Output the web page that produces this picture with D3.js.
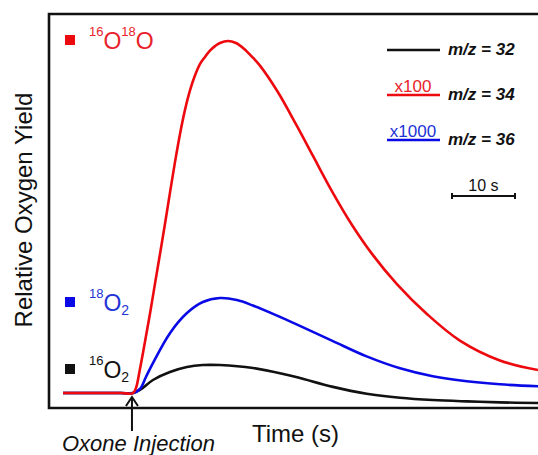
<!DOCTYPE html>
<html>

<head>
    <title>Relative Oxygen Yield</title>
    <script src="https://d3js.org/d3.v7.min.js"></script>
    <style>
        body { margin: 0; background: white; }
        svg text { font-family: "Liberation Sans", Arial, sans-serif; }
    </style>
</head>

<body>
    <div id="chart"></div>
    <script>
        // DATA (time in s relative to oxone injection, yield in arbitrary units)

        var timeBlack = [-11.1, -2, 0, 1.11, 3.17, 5.87, 8.57, 11.1, 13.8, 19.05, 24.4, 26.5, 31.75, 37.1, 42.4, 47.6, 53.0, 58.25, 64.3]
        var yieldBlack = [3.8, 3.8, 3.8, 4.57, 7.11, 9.14, 10.4, 10.9, 10.9, 10.15, 8.43, 7.61, 5.36, 3.63, 2.61, 2.03, 1.68, 1.42, 1.27]

        var timeRed = [-11.1, -2, 0, 0.48, 1.11, 1.90, 2.70, 3.49, 4.29, 5.08, 5.87, 6.67, 7.46, 8.25, 9.05, 9.84, 10.63, 11.43, 12.22, 13.02, 13.81, 15.08, 16.35, 17.62, 19.05, 20.16, 23.0, 26.0, 28.6, 31.6, 34.8, 38.1, 41.9, 46.7, 51.9, 58.25, 64.3]
        var yieldRed = [3.8, 3.8, 3.8, 5.08, 9.9, 16.75, 23.9, 31.5, 39.1, 46.7, 54.6, 62.4, 69.5, 75.6, 80.6, 84.4, 87.3, 89.1, 90.7, 91.85, 92.65, 93.15, 92.65, 91.2, 88.9, 86.9, 80.2, 71.65, 63.9, 55.0, 46.4, 38.8, 31.45, 23.8, 17.1, 12.06, 9.64]

        var timeBlue = [-11.1, -2, 0, 1.11, 2.06, 3.17, 5.87, 8.57, 11.1, 13.8, 16.5, 19.05, 24.4, 26.5, 31.75, 37.1, 42.4, 47.6, 53.0, 58.25, 64.3]
        var yieldBlue = [3.8, 3.8, 3.8, 4.82, 7.87, 11.4, 19.0, 24.1, 26.9, 27.9, 27.4, 26.0, 22.36, 20.84, 16.98, 13.1, 10.08, 8.07, 6.78, 6.01, 5.53]

        var legendLabels = ['m/z = 32', 'm/z = 34', 'm/z = 36']
        var legendFactors = ['', 'x100', 'x1000']
        var seriesColors = ['#111111', '#ec0a0f', '#0a0ae6']
        var textColors = ['#111111', '#e8232b', '#2233d6']

        // GENERAL SETUP

        var width = 538
        var height = 455
        var margin = { left: 49, right: 0, top: 14, bottom: 47 }

        var svg = d3.select('#chart').append('svg')
            .attr('width', width)
            .attr('height', height)

        var x = d3.scaleLinear()
            .domain([-13.33, 64.3])
            .range([margin.left, width])
        var y = d3.scaleLinear()
            .domain([0, 100])
            .range([height - margin.bottom, margin.top])

        svg.append('clipPath').attr('id', 'plotClip')
            .append('rect')
            .attr('x', margin.left).attr('y', margin.top)
            .attr('width', width - margin.left).attr('height', height - margin.bottom - margin.top)

        // CURVES

        var line = d3.line()
            .x(function (d) { return x(d[0]) })
            .y(function (d) { return y(d[1]) })
            .curve(d3.curveCatmullRom.alpha(0.5))

        var series = [
            d3.zip(timeBlack, yieldBlack),
            d3.zip(timeRed, yieldRed),
            d3.zip(timeBlue, yieldBlue)
        ]
        // draw black first, then blue, red on top
        var order = [0, 2, 1]
        order.forEach(function (i) {
            svg.append('path')
                .attr('d', line(series[i]))
                .attr('fill', 'none')
                .attr('stroke', seriesColors[i])
                .attr('stroke-width', 2.6)
                .attr('stroke-linejoin', 'round')
                .attr('clip-path', 'url(#plotClip)')
        })

        // FRAME

        svg.append('path')
            .attr('d', 'M' + width + ',' + y(100) + 'H' + x(-13.33) + 'V' + y(0) + 'H' + width)
            .attr('fill', 'none')
            .attr('stroke', '#111')
            .attr('stroke-width', 2.6)

        // AXIS TITLES

        svg.append('text')
            .attr('transform', 'translate(32,' + 210 + ') rotate(-90)')
            .attr('text-anchor', 'middle')
            .style('font-size', '24px')
            .attr('fill', '#111')
            .text('Relative Oxygen Yield')

        svg.append('text')
            .attr('x', 252)
            .attr('y', 442)
            .style('font-size', '24px')
            .attr('fill', '#111')
            .text('Time (s)')

        // INJECTION ARROW

        var ax = x(0) - 1
        var ay = y(yieldRed[0]) + 4
        svg.append('line')
            .attr('x1', ax).attr('x2', ax)
            .attr('y1', ay).attr('y2', 431)
            .attr('stroke', '#111').attr('stroke-width', 2)
        svg.append('path')
            .attr('d', 'M' + (ax - 6) + ',' + (ay + 9) + 'L' + ax + ',' + ay + 'L' + (ax + 6) + ',' + (ay + 9))
            .attr('fill', 'none')
            .attr('stroke', '#111').attr('stroke-width', 2)
        svg.append('text')
            .attr('x', 62)
            .attr('y', 451)
            .style('font-size', '22px')
            .style('font-style', 'italic')
            .attr('fill', '#111')
            .text('Oxone Injection')

        // ISOTOPE LABELS

        var isoLabels = [
            { idx: 1, base: 49, parts: [['16', 'sup'], ['O', ''], ['18', 'sup'], ['O', '']] },
            { idx: 2, base: 311, parts: [['18', 'sup'], ['O', ''], ['2', 'sub']] },
            { idx: 0, base: 378, parts: [['16', 'sup'], ['O', ''], ['2', 'sub']] }
        ]
        isoLabels.forEach(function (lab) {
            svg.append('rect')
                .attr('x', 65).attr('y', lab.base - 14)
                .attr('width', 10).attr('height', 10)
                .attr('fill', seriesColors[lab.idx])
            var t = svg.append('text')
                .attr('x', 89).attr('y', lab.base)
                .attr('fill', textColors[lab.idx])
            var shift = 0
            lab.parts.forEach(function (p) {
                var target = p[1] == 'sup' ? -13 : (p[1] == 'sub' ? 4 : 0)
                t.append('tspan')
                    .attr('dy', target - shift)
                    .style('font-size', p[1] == 'sup' ? '13px' : (p[1] == 'sub' ? '14px' : '23px'))
                    .text(p[0])
                shift = target
            })
        })

        // LEGEND

        var legendY = [50, 95, 140]
        legendLabels.forEach(function (lab, i) {
            svg.append('line')
                .attr('x1', 387).attr('x2', 440)
                .attr('y1', legendY[i]).attr('y2', legendY[i])
                .attr('stroke', seriesColors[i]).attr('stroke-width', 2.4)
            if (legendFactors[i]) {
                svg.append('text')
                    .attr('x', 413).attr('y', legendY[i] - 3)
                    .attr('text-anchor', 'middle')
                    .style('font-size', '17px')
                    .attr('fill', textColors[i])
                    .text(legendFactors[i])
            }
            svg.append('text')
                .attr('x', 448).attr('y', legendY[i] + 5)
                .style('font-size', '17px')
                .style('font-weight', 'bold')
                .style('font-style', 'italic')
                .attr('fill', '#111')
                .text(lab)
        })

        // SCALE BAR (10 s)

        var sbX = 452
        var sbY = 196
        var sbW = x(10) - x(0)
        svg.append('path')
            .attr('d', 'M' + sbX + ',' + sbY + 'H' + (sbX + sbW)
                + 'M' + sbX + ',' + (sbY - 3) + 'V' + (sbY + 3)
                + 'M' + (sbX + sbW) + ',' + (sbY - 3) + 'V' + (sbY + 3))
            .attr('fill', 'none')
            .attr('stroke', '#111').attr('stroke-width', 2)
        svg.append('text')
            .attr('x', sbX + sbW / 2).attr('y', sbY - 5)
            .attr('text-anchor', 'middle')
            .style('font-size', '16px')
            .attr('fill', '#111')
            .text('10 s')
    </script>
</body>

</html>
